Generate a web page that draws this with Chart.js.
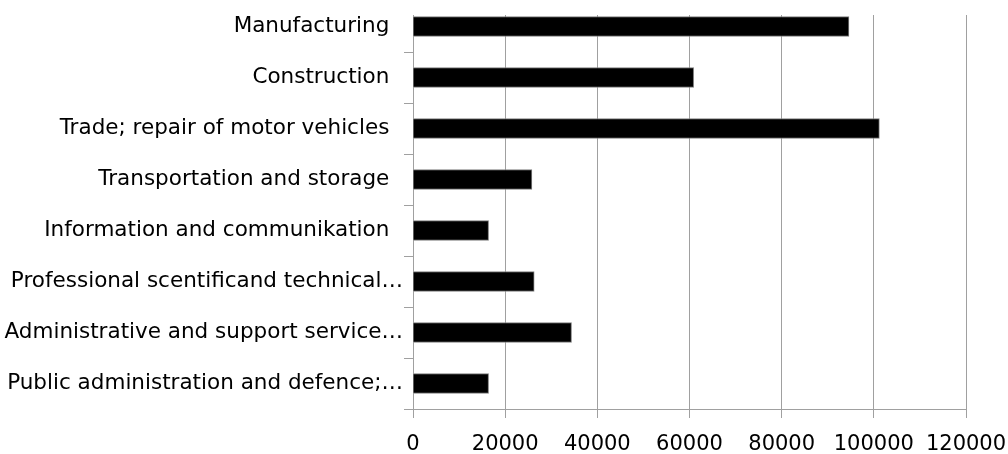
<!DOCTYPE html>
<html>
<head>
<meta charset="utf-8">
<script src="https://cdn.jsdelivr.net/npm/chart.js@4"></script>
<style>
  html, body { margin: 0; padding: 0; background: #fff; }
  #wrap { width: 1008px; height: 454px; }
</style>
</head>
<body>
<div id="wrap"><canvas id="c" width="1008" height="454"></canvas></div>
<script>
const categories = [
  "Manufacturing  ",
  "Construction  ",
  "Trade; repair of motor vehicles  ",
  "Transportation and storage  ",
  "Information and communikation  ",
  "Professional scentificand technical\u2026",
  "Administrative and support service\u2026",
  "Public administration and defence;\u2026"
];
const employees = [94600, 60900, 101200, 25800, 16400, 26300, 34400, 16400];
const xTicks = [0, 20000, 40000, 60000, 80000, 100000, 120000];

const gridGrey = '#a0a0a0';

const topMask = {
  id: 'topMask',
  beforeDatasetsDraw(chart) {
    const ctx = chart.ctx, a = chart.chartArea;
    ctx.save();
    ctx.fillStyle = '#fff';
    ctx.fillRect(a.left - 14, 0, a.right - a.left + 16, 15);
    ctx.restore();
  }
};

new Chart(document.getElementById('c'), {
  type: 'bar',
  data: {
    labels: categories,
    datasets: [{
      data: employees,
      backgroundColor: '#000',
      borderColor: '#7f7f7f',
      borderWidth: 1,
      barThickness: 20
    }]
  },
  options: {
    indexAxis: 'y',
    responsive: false,
    animation: false,
    layout: { padding: { top: 1, right: 42, left: 0, bottom: 0 } },
    plugins: { legend: { display: false }, tooltip: { enabled: false } },
    scales: {
      x: {
        min: 0, max: 120000,
        afterBuildTicks(s) { s.ticks = xTicks.map(v => ({ value: v })); },
        afterFit(s) { s.height = 45; s.paddingLeft = 0; s.paddingRight = 0; },
        grid: { color: gridGrey, tickLength: 9, drawTicks: true, tickColor: gridGrey },
        border: { color: gridGrey },
        ticks: { color: '#000', padding: 14, maxRotation: 0, autoSkip: false,
                 callback: v => String(v),
                 font: { family: 'DejaVu Sans', size: 21 } }
      },
      y: {
        afterFit(s) { s.width = 413; s.paddingTop = 0; s.paddingBottom = 0; },
        grid: { drawOnChartArea: false, tickLength: 9, color: gridGrey, offset: true },
        border: { color: gridGrey },
        ticks: { color: '#000', padding: 1, autoSkip: false,
                 font: { family: 'DejaVu Sans', size: 21.5 } }
      }
    }
  },
  plugins: [topMask]
});
</script>
</body>
</html>
